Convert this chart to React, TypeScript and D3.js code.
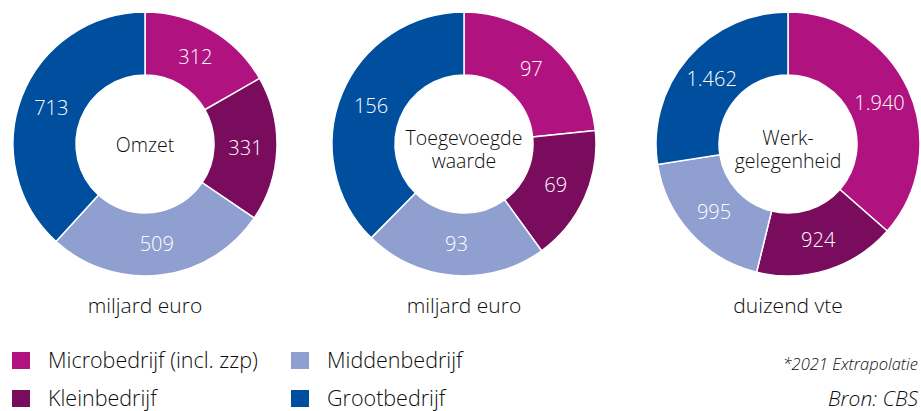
import React from 'react';
import * as d3 from 'd3';

const categories = ['Microbedrijf (incl. zzp)', 'Kleinbedrijf', 'Middenbedrijf', 'Grootbedrijf'];
const colors = ['#b0137f', '#7a0c5d', '#8f9fd0', '#004f9e'];

const omzet = [312, 331, 509, 713];
const toegevoegd = [97, 69, 93, 156];
const werk = [1940, 924, 995, 1462];

const charts = [
  { values: omzet, title: ['Omzet'], unit: 'miljard euro', cx: 145 },
  { values: toegevoegd, title: ['Toegevoegde', 'waarde'], unit: 'miljard euro', cx: 464 },
  { values: werk, title: ['Werk-', 'gelegenheid'], unit: 'duizend vte', cx: 788 },
];

const W = 921;
const H = 411;
const cy = 144;
const outerR = 132;
const innerR = 69;
const font = "'Open Sans', sans-serif";
const fw = 300;
const ink = '#0d0d0d';

const fmt = (v: number) => d3.format(',')(v).replace(/,/g, '.');

const Donut = ({ values, title, unit, cx }: { values: number[]; title: string[]; unit: string; cx: number }) => {
  const pie = d3.pie<number>().sort(null).value(d => d);
  const arc = d3.arc<d3.PieArcDatum<number>>().innerRadius(innerR).outerRadius(outerR);
  const arcs = pie(values);
  // single line sits on the centre, two lines a bit lower
  const firstBase = title.length === 1 ? 8 : 1;
  return (
    <g transform={`translate(${cx},${cy})`}>
      {arcs.map((a, i) => (
        <path key={i} d={arc(a) || ''} fill={colors[i]} stroke="#fff" strokeWidth={1.5} />
      ))}
      {arcs.map((a, i) => {
        const [x, y] = arc.centroid(a);
        return (
          <text key={'l' + i} x={x} y={y} dy="0.35em" textAnchor="middle" fill="#fff" fontSize={20} fontWeight={fw} fontFamily={font}>
            {fmt(values[i])}
          </text>
        );
      })}
      <text textAnchor="middle" fill={ink} fontSize={19.5} fontWeight={fw} fontFamily={font}>
        {title.map((t, i) => (
          <tspan key={i} x={0} y={firstBase + i * 22.5}>{t}</tspan>
        ))}
      </text>
      <text x={0} y={169} textAnchor="middle" fill={ink} fontSize={21} fontWeight={fw} fontFamily={font}>{unit}</text>
    </g>
  );
};

export default function App() {
  const legendPos = [
    { x: 12, y: 352 },
    { x: 12, y: 390 },
    { x: 291, y: 352 },
    { x: 291, y: 390 },
  ];
  return (
    <svg width={W} height={H} style={{ display: 'block', position: 'absolute', left: 0, top: 0 }}>
      <rect width={W} height={H} fill="#fff" />
      {charts.map((c, i) => <Donut key={i} {...c} />)}
      {categories.map((c, i) => (
        <g key={c} transform={`translate(${legendPos[i].x},${legendPos[i].y})`}>
          <rect width={18} height={17} fill={colors[i]} />
          <text x={36} y={16} fill={ink} fontSize={21.5} fontWeight={fw} fontFamily={font}>{c}</text>
        </g>
      ))}
      <text x={918} y={370} textAnchor="end" fontStyle="italic" fill={ink} fontSize={16.5} fontWeight={fw} fontFamily={font}>*2021 Extrapolatie</text>
      <text x={918} y={406} textAnchor="end" fontStyle="italic" fill={ink} fontSize={21} fontWeight={fw} fontFamily={font}>Bron: CBS</text>
    </svg>
  );
}
